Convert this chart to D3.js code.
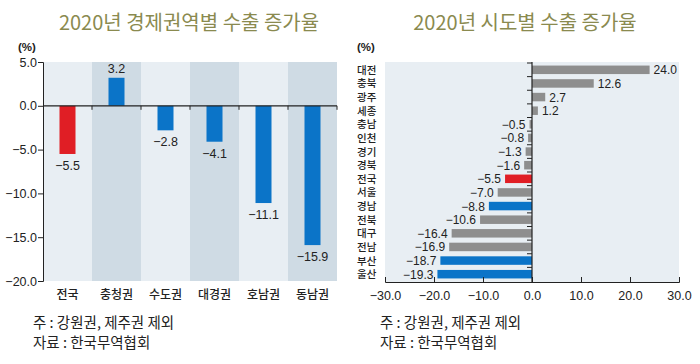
<!DOCTYPE html>
<html><head><meta charset="utf-8">
<script src="https://cdn.jsdelivr.net/npm/d3@7"></script>
<style>
html,body{margin:0;padding:0;background:#fff;}
svg text{font-family:"Liberation Sans Narrow","Liberation Sans",Arial,sans-serif;}
.kr{font-family:"Noto Sans CJK KR","Noto Sans",sans-serif !important;}
</style></head>
<body><svg id="c" width="700" height="364"></svg>
<script>
// ---- Data ----
const regionCats = ["전국","충청권","수도권","대경권","호남권","동남권"];
const regionVals = [-5.5, 3.2, -2.8, -4.1, -11.1, -15.9];
const regionColorKeys = ["red","blue","blue","blue","blue","blue"];
const regionTicks = [5, 0, -5, -10, -15, -20];

const provCats = ["대전","충북","광주","세종","충남","인천","경기","경북","전국","서울","경남","전북","대구","전남","부산","울산"];
const provVals = [24.0, 12.6, 2.7, 1.2, -0.5, -0.8, -1.3, -1.6, -5.5, -7.0, -8.8, -10.6, -16.4, -16.9, -18.7, -19.3];
const provColorKeys = ["gray","gray","gray","gray","gray","gray","gray","gray","red","gray","blue","gray","gray","gray","blue","blue"];
const provTicks = [-30, -20, -10, 0, 10, 20, 30];

const titles = ["2020년 경제권역별 수출 증가율", "2020년 시도별 수출 증가율"];
const notes = ["주 : 강원권, 제주권 제외", "자료 : 한국무역협회"];

const colors = {red:"#e01e25", blue:"#0b74c8", gray:"#8e8e8e"};
const svg = d3.select("#c");
const fmt = d3.format(".1f");

// ---- Titles ----
svg.append("text").attr("class","kr").attr("x",189).attr("y",30).attr("text-anchor","middle")
  .attr("font-size",20).attr("fill","#8a8a4f").text(titles[0]);
svg.append("text").attr("class","kr").attr("x",525).attr("y",30).attr("text-anchor","middle")
  .attr("font-size",20).attr("fill","#8a8a4f").text(titles[1]);

// ---- Left chart ----
const L = {x0:43, x1:337, y0:62, y1:281};
const xb = d3.scaleBand().domain(regionCats).range([L.x0, L.x1]);
const yl = d3.scaleLinear().domain([-20, 5]).range([L.y1, L.y0]);
const gL = svg.append("g");
gL.selectAll("rect.band").data(regionCats).join("rect")
  .attr("x", d=>xb(d)).attr("y", L.y0).attr("width", xb.bandwidth()).attr("height", L.y1-L.y0)
  .attr("fill", (d,i)=> i%2 ? "#cfdbe4" : "#e8eef3");
const bw = 16;
gL.selectAll("rect.bar").data(regionVals).join("rect")
  .attr("x",(d,i)=>xb(regionCats[i])+xb.bandwidth()/2-bw/2)
  .attr("y",d=>yl(Math.max(0,d))).attr("width",bw)
  .attr("height",d=>Math.abs(yl(d)-yl(0)))
  .attr("fill",(d,i)=>colors[regionColorKeys[i]]);
gL.selectAll("text.val").data(regionVals).join("text")
  .attr("x",(d,i)=>xb(regionCats[i])+xb.bandwidth()/2)
  .attr("y",d=> d<0 ? yl(d)+16 : yl(d)-5)
  .attr("text-anchor","middle").attr("font-size",12.5).attr("fill","#222")
  .text(d=>fmt(d).replace("-","−"));
// zero line and ticks
gL.append("line").attr("x1",L.x0).attr("x2",L.x1).attr("y1",yl(0)).attr("y2",yl(0)).attr("stroke","#222").attr("stroke-width",1.2);
gL.selectAll("line.bt").data(regionCats.slice(1).concat(["end"])).join("line")
  .attr("x1",(d,i)=> i<regionCats.length-1 ? xb(d) : L.x1).attr("x2",(d,i)=> i<regionCats.length-1 ? xb(d) : L.x1)
  .attr("y1",yl(0)).attr("y2",yl(0)+4).attr("stroke","#222");
// y axis
const axL = gL.append("g").attr("transform",`translate(${L.x0},0)`)
  .call(d3.axisLeft(yl).tickValues(regionTicks).tickSize(5).tickFormat(d=>fmt(d).replace("-","−")));
axL.select(".domain").attr("stroke","#222");
axL.selectAll("line").attr("stroke","#222");
axL.selectAll("text").attr("font-size",12.5).attr("fill","#222").attr("x",-6)
  .style("font-family",'"Liberation Sans Narrow","Liberation Sans",Arial,sans-serif');
// category labels
gL.selectAll("text.cat").data(regionCats).join("text").attr("class","kr")
  .attr("x",d=>xb(d)+xb.bandwidth()/2).attr("y",299).attr("text-anchor","middle")
  .attr("font-size",12).attr("font-weight",500).attr("fill","#222").text(d=>d);
svg.append("text").attr("x",18).attr("y",51).attr("font-size",11.5).attr("font-weight","bold").attr("fill","#222").text("(%)");

// ---- Right chart ----
const R = {x0:385, x1:679, y0:62, y1:282};
const xr = d3.scaleLinear().domain([-30,30]).range([R.x0,R.x1]);
const yb = d3.scaleBand().domain(provCats).range([R.y0+1,R.y1-1]);
const gR = svg.append("g");
gR.append("rect").attr("x",R.x0).attr("y",R.y0).attr("width",R.x1-R.x0).attr("height",R.y1-R.y0).attr("fill","#e8eef3");
const bh = 8.5;
gR.selectAll("rect.bar").data(provVals).join("rect")
  .attr("x",d=>xr(Math.min(0,d))).attr("y",(d,i)=>yb(provCats[i])+yb.bandwidth()/2-bh/2)
  .attr("width",d=>Math.abs(xr(d)-xr(0))).attr("height",bh)
  .attr("fill",(d,i)=>colors[provColorKeys[i]]);
gR.selectAll("text.val").data(provVals).join("text")
  .attr("x",d=> d<0 ? xr(d)-4 : xr(d)+4)
  .attr("y",(d,i)=>yb(provCats[i])+yb.bandwidth()/2+4.5)
  .attr("text-anchor",d=> d<0 ? "end" : "start")
  .attr("font-size",12).attr("fill","#222").text(d=>fmt(d).replace("-","−"));
// vertical zero axis with row ticks
gR.append("line").attr("x1",xr(0)).attr("x2",xr(0)).attr("y1",R.y0).attr("y2",R.y1).attr("stroke","#222").attr("stroke-width",1.2);
gR.selectAll("line.rt").data(provCats).join("line")
  .attr("x1",xr(0)-5).attr("x2",xr(0)).attr("y1",d=>yb(d)).attr("y2",d=>yb(d)).attr("stroke","#222");
// x axis
const axR = gR.append("g").attr("transform",`translate(0,${R.y1})`)
  .call(d3.axisBottom(xr).tickValues(provTicks).tickSize(-5).tickFormat(d=>fmt(d).replace("-","−")));
axR.select(".domain").attr("stroke","#222");
axR.selectAll("line").attr("stroke","#222");
axR.selectAll("text").attr("font-size",12.5).attr("fill","#222").attr("y",9)
  .style("font-family",'"Liberation Sans Narrow","Liberation Sans",Arial,sans-serif');
gR.selectAll("text.cat").data(provCats).join("text").attr("class","kr")
  .attr("x",357).attr("y",d=>yb(d)+yb.bandwidth()/2+4)
  .attr("font-size",10.5).attr("font-weight",500).attr("fill","#222").text(d=>d);
svg.append("text").attr("x",357).attr("y",51).attr("font-size",11.5).attr("font-weight","bold").attr("fill","#222").text("(%)");

// ---- Notes ----
[33, 380].forEach(x=>{
  notes.forEach((n,i)=>{
    svg.append("text").attr("class","kr").attr("x",x).attr("y",328+i*20)
      .attr("font-size",14.5).attr("fill","#222").text(n);
  });
});
</script></body></html>
